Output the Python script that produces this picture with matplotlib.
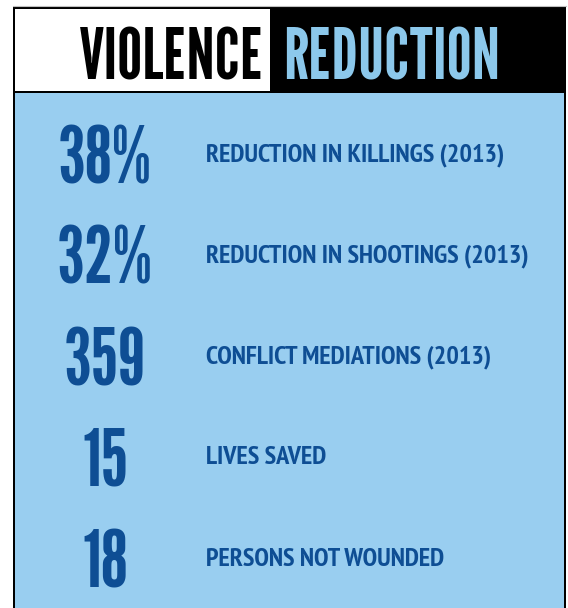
import matplotlib
matplotlib.use("Agg")
import matplotlib.pyplot as plt
from matplotlib.patches import Rectangle

# data
stat_values = ["38%", "32%", "359", "15", "18"]
stat_labels = [
    "REDUCTION IN KILLINGS (2013)",
    "REDUCTION IN SHOOTINGS (2013)",
    "CONFLICT MEDIATIONS (2013)",
    "LIVES SAVED",
    "PERSONS NOT WOUNDED",
]
title_left = "VIOLENCE"
title_right = "REDUCTION"

# colours
panel_blue = "#99CEF0"
dark_blue = "#0E4E94"
light_blue = "#8CC8EB"

W, H = 568, 608
fig = plt.figure(figsize=(W / 100, H / 100), dpi=100)
ax = fig.add_axes([0, 0, 1, 1])
ax.set_xlim(0, W)
ax.set_ylim(H, 0)
ax.axis("off")

# frame, header boxes and panel
ax.plot([12.7, 566], [6, 6], color="#c0c0c0", lw=0.8)
ax.add_patch(Rectangle((12.7, 6.8), 553.3, H, color="black", lw=0))
ax.add_patch(Rectangle((15, 8.6), 255, 82, color="white", lw=0))
ax.add_patch(Rectangle((15, 93), 549, H, color=panel_blue, lw=0))

# header
ax.text(264, 79.5, title_left, ha="right", va="baseline", family="League Gothic",
        fontsize=51, color="black")
ax.text(283, 79.5, title_right, ha="left", va="baseline", family="League Gothic",
        fontsize=51, color=light_blue)

# rows
for i, (val, lab) in enumerate(zip(stat_values, stat_labels)):
    y = 154 + 101 * i
    ax.text(105, y + 29, val, ha="center", va="baseline", family="League Gothic",
            fontsize=57, color=dark_blue)
    ax.text(206, y + 7.5, lab, ha="left", va="baseline", family="PT Sans Narrow",
            weight="bold", fontsize=18.9, color=dark_blue)

fig.savefig("out.png", dpi=100)
